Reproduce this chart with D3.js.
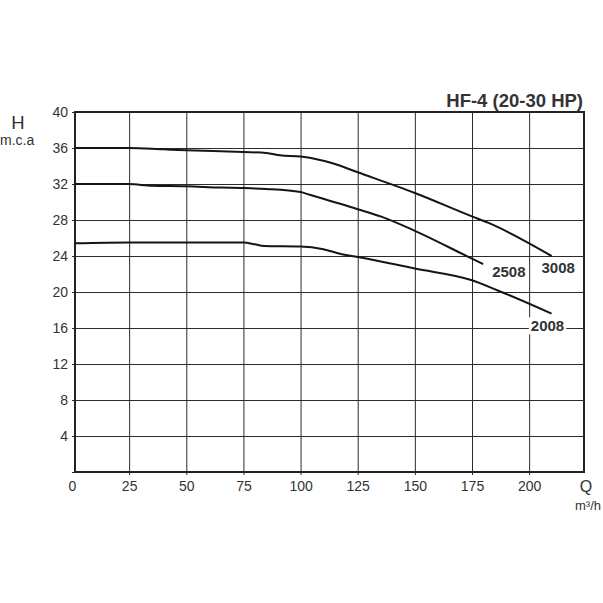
<!DOCTYPE html>
<html>
<head>
<meta charset="utf-8">
<script src="https://cdn.jsdelivr.net/npm/d3@7"></script>
<style>
  body { margin: 0; background: #fff; }
  text { font-family: "Liberation Sans", Arial, sans-serif; fill: #333; }
</style>
</head>
<body>
<script>
var w = 603;
var h = 603;

// data (Q in m3/h, H in m.c.a)
var xTicks = [0, 25, 50, 75, 100, 125, 150, 175, 200];
var yTicks = [0, 4, 8, 12, 16, 20, 24, 28, 32, 36, 40];

var q3008 = [0, 25, 40, 50, 75, 85, 91, 100, 108, 114, 125, 150, 175, 182, 209.8];
var h3008 = [36.0, 36.0, 35.85, 35.75, 35.55, 35.45, 35.2, 35.05, 34.7, 34.3, 33.3, 31.0, 28.4, 27.7, 24.0];

var q2508 = [0, 25, 35, 50, 65, 75, 85, 100, 104, 125, 135, 150, 175, 179.9];
var h2508 = [32.0, 32.0, 31.8, 31.75, 31.6, 31.55, 31.45, 31.1, 30.8, 29.2, 28.4, 26.8, 23.7, 23.1];

var q2008 = [0, 25, 50, 75, 80, 84, 100, 110, 118, 125, 150, 175, 186, 209.8];
var h2008 = [25.4, 25.5, 25.5, 25.5, 25.3, 25.1, 25.05, 24.75, 24.2, 23.9, 22.6, 21.3, 20.2, 17.6];

//************** */
var pLeft = 75, pRight = 584, pTop = 112, pBottom = 472;

var x = d3.scaleLinear()
    .domain([0, 224])
    .range([72, 584]);

var y = d3.scaleLinear()
    .domain([0, 40])
    .range([pBottom, pTop]);

var svg = d3.select("body")
    .append("svg")
    .attr("width", w)
    .attr("height", h);

svg.append("defs").append("clipPath")
    .attr("id", "plot")
    .append("rect")
    .attr("x", pLeft)
    .attr("y", pTop - 5)
    .attr("width", pRight - pLeft)
    .attr("height", pBottom - pTop + 10);

// grid + y axis
var yAxis = svg.append("g")
    .attr("transform", "translate(72,0)")
    .call(d3.axisLeft(y)
        .tickValues(yTicks)
        .tickSize(-(pRight - 72))
        .tickSizeOuter(0)
        .tickPadding(4)
        .tickFormat(function (d) { return d === 0 ? "" : d; }));

// grid + x axis
var xAxis = svg.append("g")
    .attr("transform", "translate(0," + (pBottom + 3) + ")")
    .call(d3.axisBottom(x)
        .tickValues(xTicks)
        .tickSize(-(pBottom + 3 - pTop))
        .tickSizeOuter(0)
        .tickPadding(6));

[yAxis, xAxis].forEach(function (g) {
    g.select(".domain").remove();
    g.selectAll(".tick line")
        .attr("stroke", "#2b2b2b")
        .attr("stroke-width", 1);
    g.selectAll(".tick text")
        .style("font-size", "14px")
        .attr("fill", "#333");
});
xAxis.selectAll(".tick")
    .filter(function (d) { return d === 0; })
    .select("line").remove();

// frame
svg.append("rect")
    .attr("x", pLeft)
    .attr("y", pTop)
    .attr("width", pRight - pLeft)
    .attr("height", pBottom - pTop)
    .attr("fill", "none")
    .attr("stroke", "#222")
    .attr("stroke-width", 2);

// curves
var line = d3.line()
    .x(function (d) { return x(d[0]); })
    .y(function (d) { return y(d[1]); })
    .curve(d3.curveMonotoneX);

var series = [
    { name: "3008", q: q3008, h: h3008, dx: -10, dy: 16.7 },
    { name: "2508", q: q2508, h: h2508, dx: 9, dy: 13.3 },
    { name: "2008", q: q2008, h: h2008, dx: -20.7, dy: 17.7 }
];

series.forEach(function (s) {
    var pts = s.q.map(function (v, i) { return [v, s.h[i]]; });
    svg.append("path")
        .attr("d", line(pts))
        .attr("clip-path", "url(#plot)")
        .attr("fill", "none")
        .attr("stroke", "#151515")
        .attr("stroke-width", 2);

    // model label at curve end
    var end = pts[pts.length - 1];
    var lab = svg.append("g");
    var t = lab.append("text")
        .attr("x", x(end[0]) + s.dx)
        .attr("y", y(end[1]) + s.dy)
        .style("font-size", "15px")
        .style("font-weight", "bold")
        .text(s.name);
    if (s.name === "2008") {
        var bb = t.node().getBBox();
        lab.insert("rect", "text")
            .attr("x", bb.x - 2)
            .attr("y", bb.y)
            .attr("width", bb.width + 4)
            .attr("height", bb.height)
            .attr("fill", "#fff");
    }
});

// titles
svg.append("text")
    .attr("x", 583)
    .attr("y", 107)
    .attr("text-anchor", "end")
    .style("font-size", "18.5px")
    .style("font-weight", "bold")
    .text("HF-4 (20-30 HP)");

svg.append("text")
    .attr("x", 18)
    .attr("y", 129)
    .attr("text-anchor", "middle")
    .style("font-size", "18.5px")
    .text("H");

svg.append("text")
    .attr("x", 0)
    .attr("y", 145)
    .style("font-size", "14px")
    .text("m.c.a");

svg.append("text")
    .attr("x", 586)
    .attr("y", 492)
    .attr("text-anchor", "middle")
    .style("font-size", "16px")
    .text("Q");

svg.append("text")
    .attr("x", 601)
    .attr("y", 510)
    .attr("text-anchor", "end")
    .style("font-size", "13px")
    .text("m³/h");
</script>
</body>
</html>
